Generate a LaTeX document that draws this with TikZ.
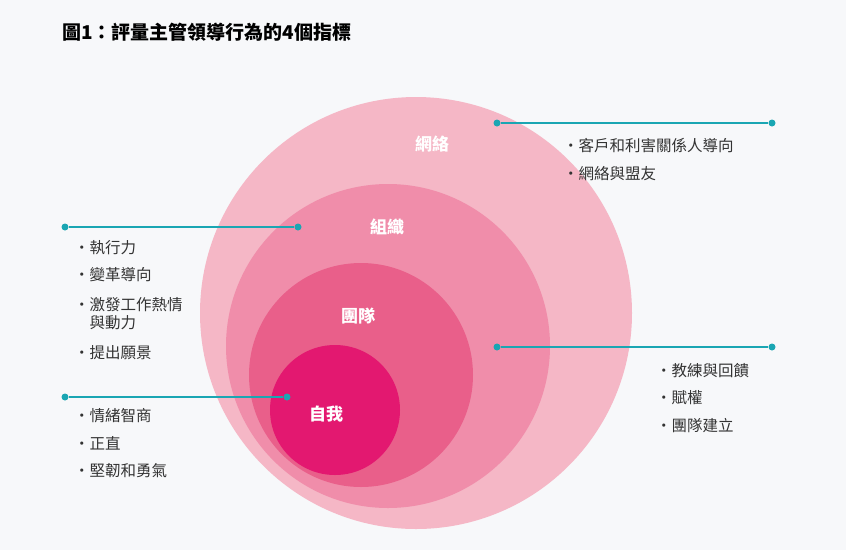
\documentclass[tikz,border=0pt]{standalone}
\usepackage{fontspec}
\setmainfont{Noto Sans CJK TC}
\newfontfamily\cjkb{Noto Sans CJK TC}[BoldFont={* Bold}]
\definecolor{bg}{HTML}{F7F8FA}
\definecolor{cA}{HTML}{F5B7C6}
\definecolor{cB}{HTML}{F08DAA}
\definecolor{cC}{HTML}{E95F8A}
\definecolor{cD}{HTML}{E31870}
\definecolor{teal}{HTML}{1AA6B3}
\definecolor{txt}{HTML}{333333}
\tikzset{
 lbl/.style={text=white,font=\fontsize{17}{20}\selectfont\bfseries},
 conn/.style={teal,line width=2.2pt},
 dotc/.style={circle,fill=teal,inner sep=0pt,minimum size=7pt},
 item/.style={anchor=west,text=txt,font=\fontsize{15.5}{18}\selectfont,inner sep=0pt,align=left}
}
\begin{document}
\begin{tikzpicture}[x=1pt,y=-1pt]
\fill[bg] (0,0) rectangle (846,550);
\useasboundingbox (0,0) rectangle (846,550);
\node[anchor=west,inner sep=0pt,text=black,font=\fontsize{19}{22}\selectfont\bfseries] (title) at (62,32) {圖1：評量主管領導行為的4個指標};
\fill[cA] (416,313) circle (216);
\fill[cB] (388,346) circle (162);
\fill[cC] (361,375) circle (112);
\fill[cD] (335,410) circle (65);
\node[lbl] (n1) at (432,144) {網絡};
\node[lbl] (n2) at (387,227) {組織};
\node[lbl] (n3) at (358,316) {團隊};
\node[lbl] (n4) at (326,414) {自我};
\node[dotc] (a1) at (497,123) {}; \node[dotc] (a2) at (772,123) {};
\node[dotc] (b1) at (65,227) {}; \node[dotc] (b2) at (298,227) {};
\node[dotc] (c1) at (497,347) {}; \node[dotc] (c2) at (772,347) {};
\node[dotc] (d1) at (65,397) {}; \node[dotc] (d2) at (287,397) {};
\draw[conn] (a1) -- (a2);
\draw[conn] (b1) -- (b2);
\draw[conn] (c1) -- (c2);
\draw[conn] (d1) -- (d2);
\node[item] (l1) at (563,146) {•客戶和利害關係人導向};
\node[item] (l2) at (563,174) {•網絡與盟友};
\node[item] (o1) at (74,248) {•執行力};
\node[item] (o2) at (74,275) {•變革導向};
\node[item] (o3) at (74,314) {•激發工作熱情\\\phantom{•}與動力};
\node[item] (o4) at (74,353) {•提出願景};
\node[item] (t1) at (656,371) {•教練與回饋};
\node[item] (t2) at (656,398) {•賦權};
\node[item] (t3) at (656,426) {•團隊建立};
\node[item] (s1) at (74,416) {•情緒智商};
\node[item] (s2) at (74,443) {•正直};
\node[item] (s3) at (74,471) {•堅韌和勇氣};
\end{tikzpicture}
\end{document}
